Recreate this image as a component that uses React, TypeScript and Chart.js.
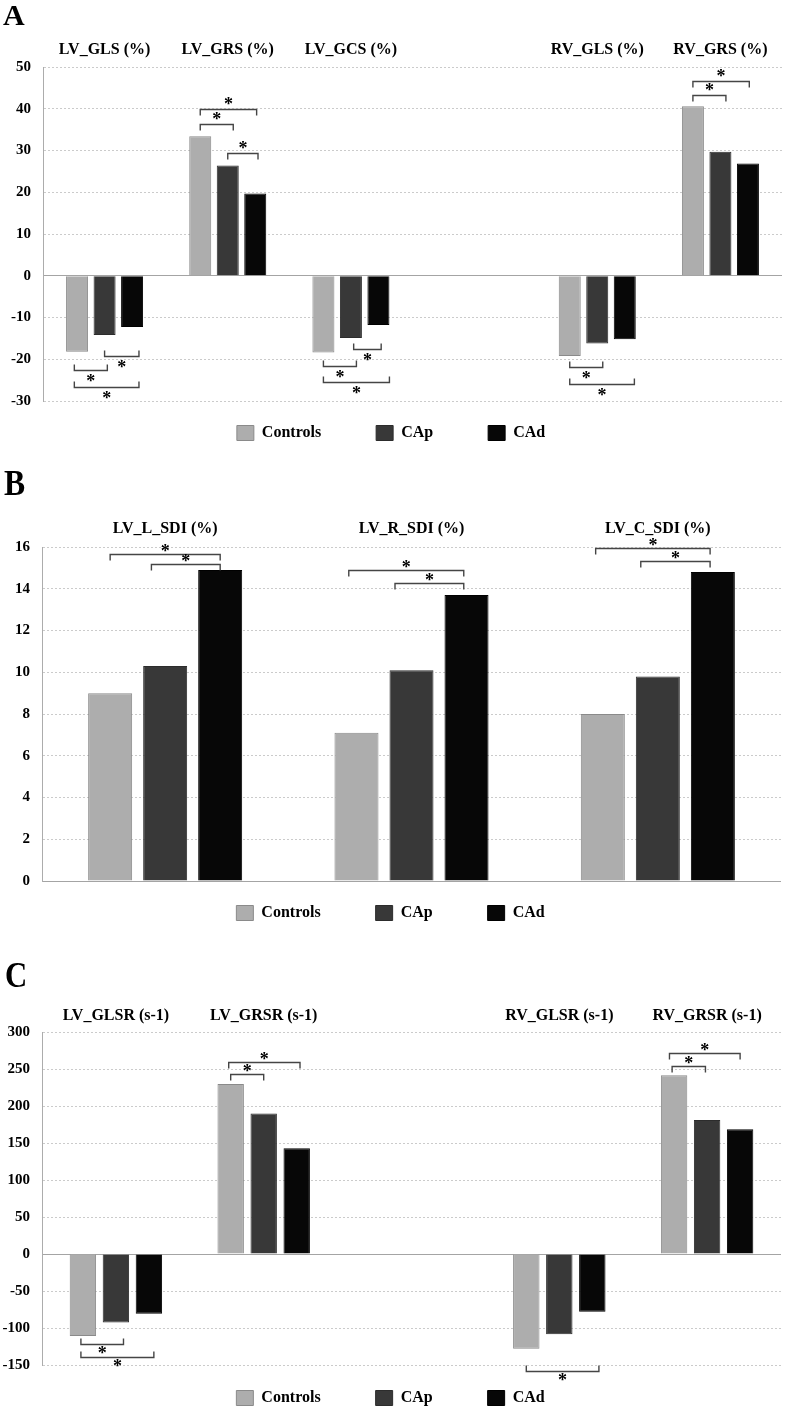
import React, { useEffect, useRef } from 'react';
import { Chart, registerables } from 'chart.js';

Chart.register(...registerables);

const FONT = '"Liberation Serif", "Times New Roman", serif';

// Series
const seriesNames = ['Controls', 'CAp', 'CAd'];
const seriesFill = ['#adadad', '#383838', '#070707'];
const seriesEdge = ['#8a8a8a', '#2c2c2c', '#000000'];

// Panel A
const categoriesA = ['LV_GLS (%)', 'LV_GRS (%)', 'LV_GCS (%)', '', 'RV_GLS (%)', 'RV_GRS (%)'];
const controlsA = [-18.2, 33.4, -18.4, null, -19.2, 40.6];
const capA = [-14.2, 26.4, -14.9, null, -16.2, 29.7];
const cadA = [-12.3, 19.7, -11.8, null, -15.2, 26.9];
const yTicksA = [-30, 50, 10];
// [category, from (series position), to (series position), y value, direction: 1 above / -1 below]
const bracketsA = [
  [1, 0, 2.05, 40.0, 1],
  [1, 0, 1.2, 36.3, 1],
  [1, 1.0, 2.1, 29.4, 1],
  [5, 0, 2.05, 46.7, 1],
  [5, 0, 1.2, 43.4, 1],
  [0, 1.0, 2.25, -19.2, -1],
  [0, -0.1, 1.1, -22.5, -1],
  [0, -0.1, 2.25, -26.6, -1],
  [2, 1.1, 2.1, -17.6, -1],
  [2, 0, 1.2, -21.5, -1],
  [2, 0, 2.4, -25.5, -1],
  [4, 0, 1.2, -21.9, -1],
  [4, 0, 2.35, -25.9, -1],
];

// Panel B
const categoriesB = ['LV_L_SDI (%)', 'LV_R_SDI (%)', 'LV_C_SDI (%)'];
const controlsB = [9.0, 7.1, 8.0];
const capB = [10.3, 10.1, 9.8];
const cadB = [14.9, 13.7, 14.8];
const yTicksB = [0, 16, 2];
const bracketsB = [
  [0, 0, 2.0, 15.68, 1],
  [0, 0.75, 2.0, 15.17, 1],
  [1, -0.14, 1.95, 14.91, 1],
  [1, 0.7, 1.95, 14.27, 1],
  [2, -0.13, 1.95, 15.95, 1],
  [2, 0.69, 1.95, 15.35, 1],
];

// Panel C
const categoriesC = ['LV_GLSR (s-1)', 'LV_GRSR (s-1)', '', 'RV_GLSR (s-1)', 'RV_GRSR (s-1)'];
const controlsC = [-110.7, 229.6, null, -128, 241.7];
const capC = [-92.4, 190, null, -108.5, 181];
const cadC = [-80.8, 143, null, -78.1, 168.6];
const yTicksC = [-150, 300, 50];
const bracketsC = [
  [0, -0.06, 1.23, -121.9, -1],
  [0, -0.06, 2.15, -138.8, -1],
  [1, 0, 1.0, 242.6, 1],
  [1, -0.06, 2.1, 259.6, 1],
  [3, 0, 2.2, -158.5, -1],
  [4, -0.06, 0.95, 254, 1],
  [4, -0.14, 2.0, 272, 1],
];

const STAR_SIZE = 18;

const bracketPlugin = {
  id: 'sigBrackets',
  afterDatasetsDraw(chart: any, _args: any, opts: any) {
    const items = opts.items || [];
    if (!items.length) return;
    const ctx = chart.ctx;
    const yScale = chart.scales.y;
    const m0 = chart.getDatasetMeta(0);
    const m1 = chart.getDatasetMeta(1);
    ctx.save();
    ctx.strokeStyle = '#454545';
    ctx.lineWidth = 1.4;
    ctx.fillStyle = '#000';
    ctx.font = `bold ${STAR_SIZE}px ${FONT}`;
    ctx.textAlign = 'center';
    ctx.textBaseline = 'alphabetic';
    for (const [cat, a, b, v, dir] of items) {
      const x0 = m0.data[cat].x;
      const slot = m1.data[cat].x - x0;
      const xa = x0 + a * slot;
      const xb = x0 + b * slot;
      const py = Math.round(yScale.getPixelForValue(v)) + 0.5;
      const t = opts.tick * dir;
      ctx.beginPath();
      ctx.moveTo(xa, py + t);
      ctx.lineTo(xa, py);
      ctx.lineTo(xb, py);
      ctx.lineTo(xb, py + t);
      ctx.stroke();
      const cy = py - dir * opts.starGap;
      ctx.fillText('*', (xa + xb) / 2, cy + STAR_SIZE * 0.49);
    }
    ctx.restore();
  },
};

const legendGapPlugin = {
  id: 'legendGap',
  afterLayout(chart: any, _args: any, opts: any) {
    const lg = chart.legend;
    if (!lg || opts.gap == null) return;
    const pad = lg.options.labels.padding;
    const d = chart.chartArea.bottom + opts.gap - (lg.top + pad);
    lg.top += d;
    lg.bottom += d;
  },
};

type PanelProps = {
  top: number;
  height: number;
  labels: string[];
  values: (number | null)[][];
  yTicks: number[];
  brackets: number[][];
  xHeight: number;
  xPad: number;
  yWidth: number;
  rightPad: number;
  legendGap: number;
  starGap: number;
};

function Panel(p: PanelProps) {
  const ref = useRef<HTMLCanvasElement>(null);
  useEffect(() => {
    const chart = new Chart(ref.current as HTMLCanvasElement, {
      type: 'bar',
      data: {
        labels: p.labels,
        datasets: p.values.map((vals, i) => ({
          label: seriesNames[i],
          data: vals,
          backgroundColor: seriesFill[i],
          borderColor: seriesEdge[i],
          borderWidth: 1,
          categoryPercentage: 0.67,
          barPercentage: 0.8,
        })),
      },
      options: {
        responsive: false,
        animation: false,
        devicePixelRatio: 1,
        layout: { padding: { left: 0, right: p.rightPad, top: 0, bottom: 0 } },
        scales: {
          x: {
            position: 'top',
            grid: { display: false, drawTicks: false },
            border: { display: false },
            ticks: {
              color: '#000',
              font: { family: FONT, size: 16, weight: 'bold' },
              padding: p.xPad,
              autoSkip: false,
              maxRotation: 0,
            },
            afterFit: (s: any) => {
              s.height = p.xHeight;
            },
          },
          y: {
            min: p.yTicks[0],
            max: p.yTicks[1],
            ticks: {
              stepSize: p.yTicks[2],
              color: '#000',
              font: { family: FONT, size: 15, weight: 'bold' },
              padding: 12,
            },
            grid: {
              drawTicks: false,
              lineWidth: 1,
              color: (c: any) => (c.tick && c.tick.value === 0 ? '#a4a4a4' : '#cbcbcb'),
            },
            border: {
              display: true,
              color: '#acacac',
              width: 1,
              dash: (c: any) => (c.tick && c.tick.value === 0 ? [] : [2, 2]),
            },
            afterFit: (s: any) => {
              s.width = p.yWidth;
            },
          },
        },
        plugins: {
          legend: {
            position: 'bottom',
            labels: {
              boxWidth: 17,
              boxHeight: 15,
              padding: 55,
              color: '#000',
              font: { family: FONT, size: 16, weight: 'bold' },
            },
          },
          tooltip: { enabled: false },
          sigBrackets: { items: p.brackets, tick: 6, starGap: p.starGap },
          legendGap: { gap: p.legendGap },
        } as any,
      } as any,
      plugins: [bracketPlugin, legendGapPlugin],
    });
    return () => chart.destroy();
  }, []);
  return (
    <canvas
      ref={ref}
      width={787}
      height={p.height}
      style={{ position: 'absolute', left: 0, top: p.top, display: 'block', width: 787, height: p.height }}
    />
  );
}

const letterStyle = (left: number, top: number, size: number, sx: number): React.CSSProperties => ({
  position: 'absolute',
  left,
  top,
  fontFamily: FONT,
  fontWeight: 'bold',
  fontSize: size,
  lineHeight: `${size}px`,
  color: '#000',
  transform: `scaleX(${sx})`,
  transformOrigin: 'left top',
  zIndex: 2,
});

export default function App() {
  return (
    <div
      style={{
        position: 'absolute',
        left: 0,
        top: 0,
        width: 787,
        height: 1409,
        overflow: 'hidden',
        background: '#fff',
      }}
    >
      <Panel
        top={0}
        height={482}
        labels={categoriesA}
        values={[controlsA, capA, cadA]}
        yTicks={yTicksA}
        brackets={bracketsA}
        xHeight={67}
        xPad={8}
        yWidth={43}
        rightPad={5}
        legendGap={24}
        starGap={8}
      />
      <Panel
        top={460}
        height={502}
        labels={categoriesB}
        values={[controlsB, capB, cadB]}
        yTicks={yTicksB}
        brackets={bracketsB}
        xHeight={87}
        xPad={9}
        yWidth={42}
        rightPad={6}
        legendGap={24}
        starGap={6}
      />
      <Panel
        top={955}
        height={491}
        labels={categoriesC}
        values={[controlsC, capC, cadC]}
        yTicks={yTicksC}
        brackets={bracketsC}
        xHeight={77}
        xPad={7}
        yWidth={42}
        rightPad={6}
        legendGap={25}
        starGap={6}
      />
      <div style={letterStyle(3, 0, 30, 1)}>A</div>
      <div style={letterStyle(4, 465, 36, 0.88)}>B</div>
      <div style={letterStyle(5, 958, 35, 0.88)}>C</div>
    </div>
  );
}
